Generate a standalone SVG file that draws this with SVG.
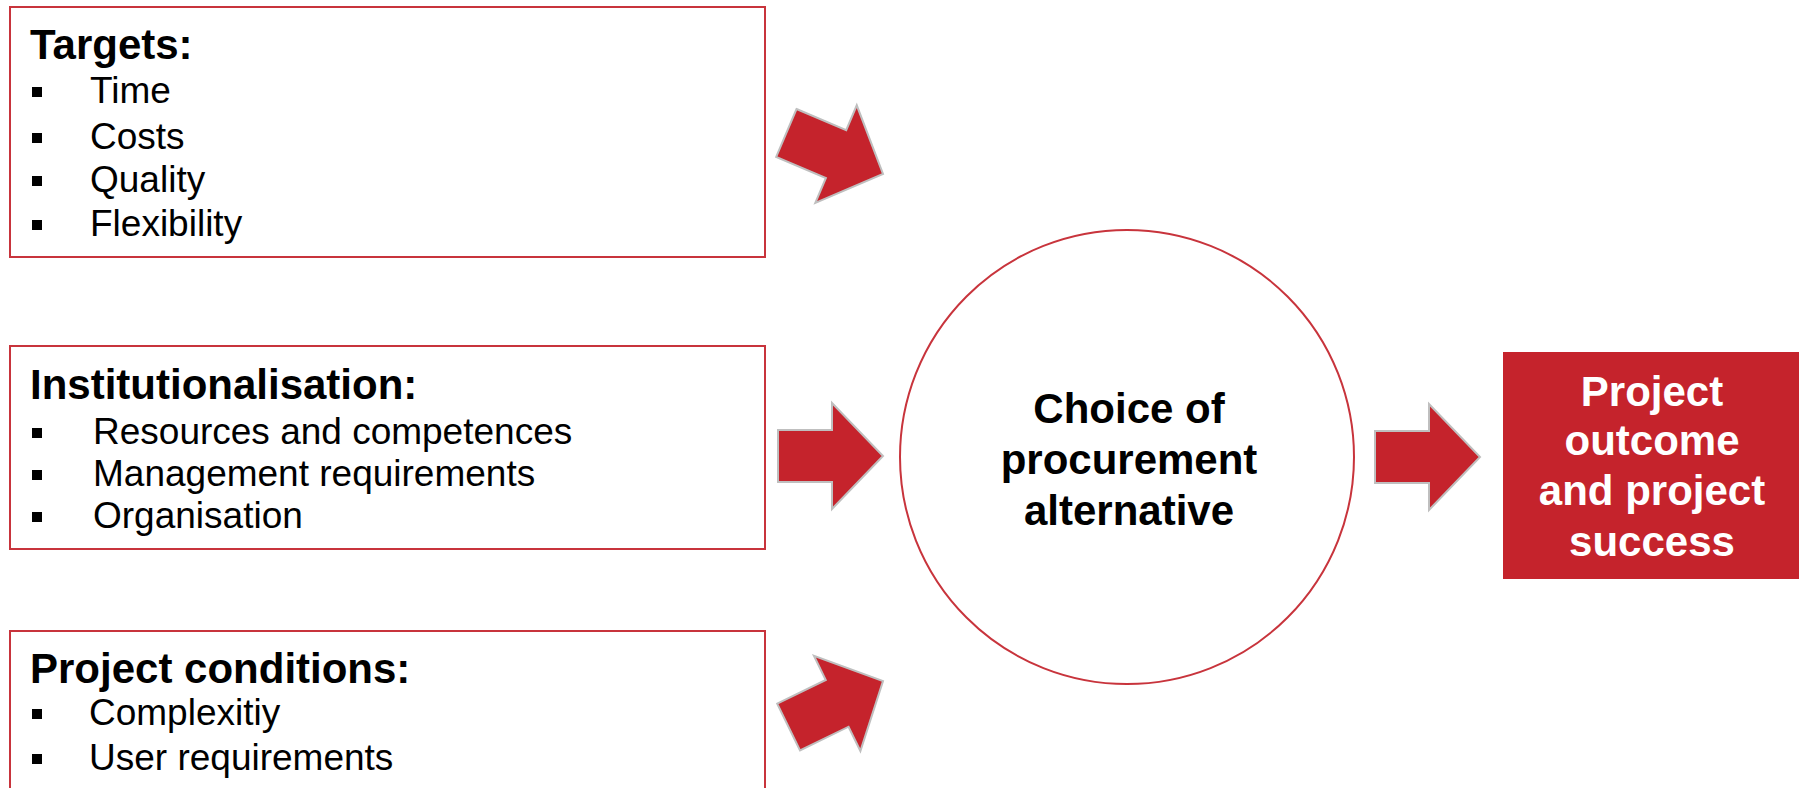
<svg xmlns="http://www.w3.org/2000/svg" width="1802" height="788" viewBox="0 0 1802 788">
<defs>
<style>
.box{fill:#fff;stroke:#C8343C;stroke-width:2}
.title{font-family:"Liberation Sans",Arial,sans-serif;font-weight:bold;font-size:42px;fill:#000}
.item{font-family:"Liberation Sans",Arial,sans-serif;font-size:37px;fill:#000}
.bul{fill:#000}
.arrow{fill:#C5232C;stroke:#BFBFBF;stroke-width:2;stroke-linejoin:miter}
.ctext{font-family:"Liberation Sans",Arial,sans-serif;font-weight:bold;font-size:42px;fill:#000;text-anchor:middle}
.wtext{font-family:"Liberation Sans",Arial,sans-serif;font-weight:bold;font-size:42px;fill:#fff;text-anchor:middle}
</style>
<polygon id="arr" points="-105,-26 -51,-26 -51,-53 0,0 -51,53 -51,26 -105,26"/>
</defs>
<rect width="1802" height="788" fill="#fff"/>
<g id="targets">
<rect class="box" x="10" y="7" width="755" height="250"/>
<text class="title" x="30" y="59">Targets:</text>
<rect class="bul" x="32" y="87" width="10" height="10"/>
<text class="item" x="90" y="103">Time</text>
<rect class="bul" x="32" y="133" width="10" height="10"/>
<text class="item" x="90" y="149">Costs</text>
<rect class="bul" x="32" y="176" width="10" height="10"/>
<text class="item" x="90" y="192">Quality</text>
<rect class="bul" x="32" y="220" width="10" height="10"/>
<text class="item" x="90" y="236">Flexibility</text>
</g>
<g id="institutionalisation">
<rect class="box" x="10" y="346" width="755" height="203"/>
<text class="title" x="30" y="399">Institutionalisation:</text>
<rect class="bul" x="32" y="428" width="10" height="10"/>
<text class="item" x="93" y="444">Resources and competences</text>
<rect class="bul" x="32" y="470" width="10" height="10"/>
<text class="item" x="93" y="486">Management requirements</text>
<rect class="bul" x="32" y="512" width="10" height="10"/>
<text class="item" x="93" y="528">Organisation</text>
</g>
<g id="conditions">
<rect class="box" x="10" y="631" width="755" height="190"/>
<text class="title" x="30" y="683">Project conditions:</text>
<rect class="bul" x="32" y="709" width="10" height="10"/>
<text class="item" x="89" y="725">Complexitiy</text>
<rect class="bul" x="32" y="754" width="10" height="10"/>
<text class="item" x="89" y="770">User requirements</text>
</g>
<g id="choice">
<circle cx="1127" cy="457" r="227" fill="#fff" stroke="#C8343C" stroke-width="2"/>
<text class="ctext" x="1129" y="423">Choice of</text>
<text class="ctext" x="1129" y="474">procurement</text>
<text class="ctext" x="1129" y="525">alternative</text>
</g>
<g id="outcome">
<rect x="1503" y="352" width="296" height="227" fill="#C5232C"/>
<text class="wtext" x="1652" y="406">Project</text>
<text class="wtext" x="1652" y="455">outcome</text>
<text class="wtext" x="1652" y="505">and project</text>
<text class="wtext" x="1652" y="556">success</text>
</g>
<g id="connectors">
<use href="#arr" class="arrow" transform="translate(883,174) rotate(23)"/>
<use href="#arr" class="arrow" transform="translate(883,456)"/>
<use href="#arr" class="arrow" transform="translate(883,681) rotate(-26)"/>
<use href="#arr" class="arrow" transform="translate(1480,457)"/>
</g>
</svg>
